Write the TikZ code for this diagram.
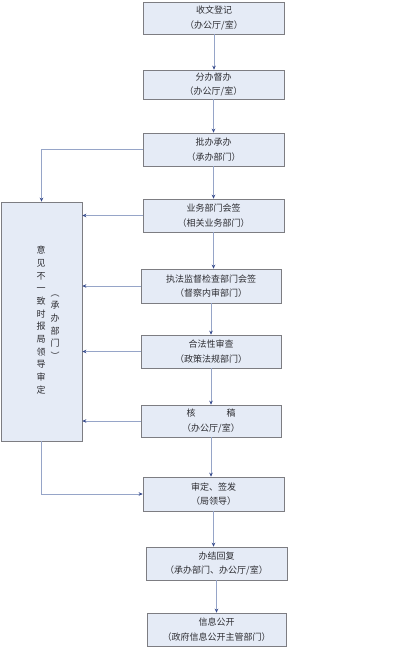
\documentclass[tikz,border=0pt]{standalone}
\usepackage{fontspec}
\newfontfamily\cjk{Noto Sans CJK SC}
\usetikzlibrary{arrows.meta}
\definecolor{boxfill}{RGB}{229,235,246}
\definecolor{boxdraw}{RGB}{125,125,130}
\definecolor{linecol}{RGB}{150,165,200}
\definecolor{tipcol}{RGB}{55,75,140}
\definecolor{txt}{RGB}{45,45,50}
\tikzset{
  flowbox/.style={draw=boxdraw, fill=boxfill, line width=0.7pt, inner sep=0pt,
    align=center, text=txt, font=\cjk\fontsize{9}{14.5}\selectfont},
  conn/.style={draw=linecol, line width=0.8pt, -{Stealth[length=4pt,width=3.6pt,color=tipcol]}},
  vtext/.style={align=center, text=txt, inner sep=0pt, text width=10pt, font=\cjk\fontsize{9}{12.7}\selectfont}
}
\begin{document}
\begin{tikzpicture}[x=1pt,y=-1pt]
\useasboundingbox (0,0) rectangle (400,648);
\node[flowbox, minimum width=141pt, minimum height=32pt] (n1) at (214,18) {收文登记\\（办公厅/室）};
\node[flowbox, minimum width=141pt, minimum height=29pt] (n2) at (213.5,84.5) {分办督办\\（办公厅/室）};
\node[flowbox, minimum width=141pt, minimum height=33pt] (n3) at (213.5,149.5) {批办承办\\（承办部门）};
\node[flowbox, minimum width=141pt, minimum height=33pt] (n4) at (213.5,215.5) {业务部门会签\\（相关业务部门）};
\node[flowbox, minimum width=140pt, minimum height=34pt] (n5) at (211,286) {执法监督检查部门会签\\（督察内审部门）};
\node[flowbox, minimum width=140pt, minimum height=33pt] (n6) at (211,351.5) {合法性审查\\（政策法规部门）};
\node[flowbox, minimum width=140pt, minimum height=32pt] (n7) at (211,421) {核\hspace{31pt}稿\\（办公厅/室）};
\node[flowbox, minimum width=141pt, minimum height=34pt] (n8) at (213.5,494) {审定、签发\\（局领导）};
\node[flowbox, minimum width=141pt, minimum height=33pt] (n9) at (216.5,563.5) {办结回复\\（承办部门、办公厅/室）};
\node[flowbox, minimum width=139pt, minimum height=33pt] (n10) at (216.5,629.5) {信息公开\\（政府信息公开主管部门）};
\node[flowbox, minimum width=81pt, minimum height=239pt] (L) at (41.5,321.5) {};
\node[vtext] (v1) at (41,320) {意\\见\\不\\一\\致\\时\\报\\局\\领\\导\\审\\定};
\node[vtext] (v2) at (55,327) {︵\\承\\办\\部\\门\\︶};
\foreach \a/\b in {n1/n2,n2/n3,n3/n4,n4/n5,n5/n6,n6/n7,n7/n8,n8/n9,n9/n10}
  \draw[conn] (\a.south) -- (\a.south |- \b.north);
\draw[conn] (n3.west) -| (L.north);
\foreach \a in {n4,n5,n6,n7}
  \draw[conn] (\a.west) -- (\a.west -| L.east);
\draw[conn] (L.south) |- (n8.west);
\end{tikzpicture}
\end{document}
